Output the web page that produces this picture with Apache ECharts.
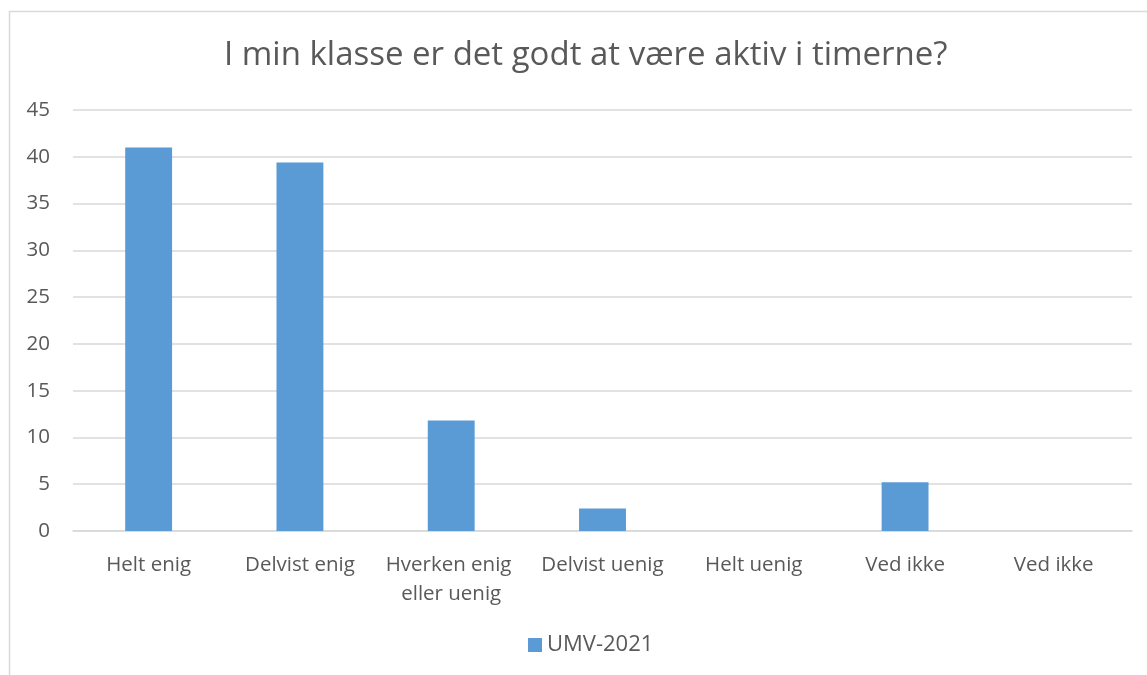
<!DOCTYPE html>
<html>
<head>
<meta charset="utf-8">
<script src="https://cdn.jsdelivr.net/npm/echarts@6/dist/echarts.min.js"></script>
<style>
html,body{margin:0;padding:0;background:#fff;}
#c{width:1147px;height:675px;}
</style>
</head>
<body>
<div id="c"></div>
<script>
var titleText = 'I min klasse er det godt at være aktiv i timerne?';
var categories = ['Helt enig', 'Delvist enig', 'Hverken enig eller uenig', 'Delvist uenig', 'Helt uenig', 'Ved ikke', 'Ved ikke '];
var seriesName = 'UMV-2021';
var values = [41.0, 39.4, 11.8, 2.4, 0, 5.2, 0];
var yTicks = {min: 0, max: 45, interval: 5};

var chart = echarts.init(document.getElementById('c'), null, {renderer: 'canvas'});
var font = 'Open Sans';
chart.setOption({
  animation: false,
  backgroundColor: '#ffffff',
  graphic: [{
    type: 'rect', z: -10, silent: true,
    shape: {x: 9.5, y: 11.5, width: 1300, height: 1000},
    style: {fill: '#ffffff', stroke: '#d9d9d9', lineWidth: 1.5}
  }],
  title: {
    text: titleText,
    left: 224,
    top: 39,
    padding: 0,
    textStyle: {fontFamily: font, fontSize: 33, fontWeight: 'normal', color: '#595959'}
  },
  legend: {
    top: 634,
    left: 528,
    padding: 0,
    itemWidth: 14, itemHeight: 14, itemGap: 6,
    icon: 'rect',
    data: [seriesName],
    textStyle: {fontFamily: font, fontSize: 22, color: '#595959', padding: [0,0,0,0]}
  },
  grid: {left: 73, right: 15, top: 110, bottom: 144, containLabel: false},
  xAxis: {
    type: 'category',
    data: categories,
    axisLine: {lineStyle: {color: '#d9d9d9', width: 1.5}},
    axisTick: {show: false},
    axisLabel: {interval: 0, margin: 20, fontFamily: font, fontSize: 20.5, color: '#595959',
      width: 150, overflow: 'break', lineHeight: 29}
  },
  yAxis: {
    type: 'value',
    min: yTicks.min, max: yTicks.max, interval: yTicks.interval,
    axisLine: {show: false},
    axisTick: {show: false},
    splitLine: {lineStyle: {color: '#d9d9d9', width: 1.5}},
    axisLabel: {margin: 23, fontFamily: font, fontSize: 20.5, color: '#595959'}
  },
  series: [{
    name: seriesName,
    type: 'bar',
    data: values,
    barWidth: '31%',
    itemStyle: {color: '#5b9bd5'}
  }]
});
</script>
</body>
</html>
